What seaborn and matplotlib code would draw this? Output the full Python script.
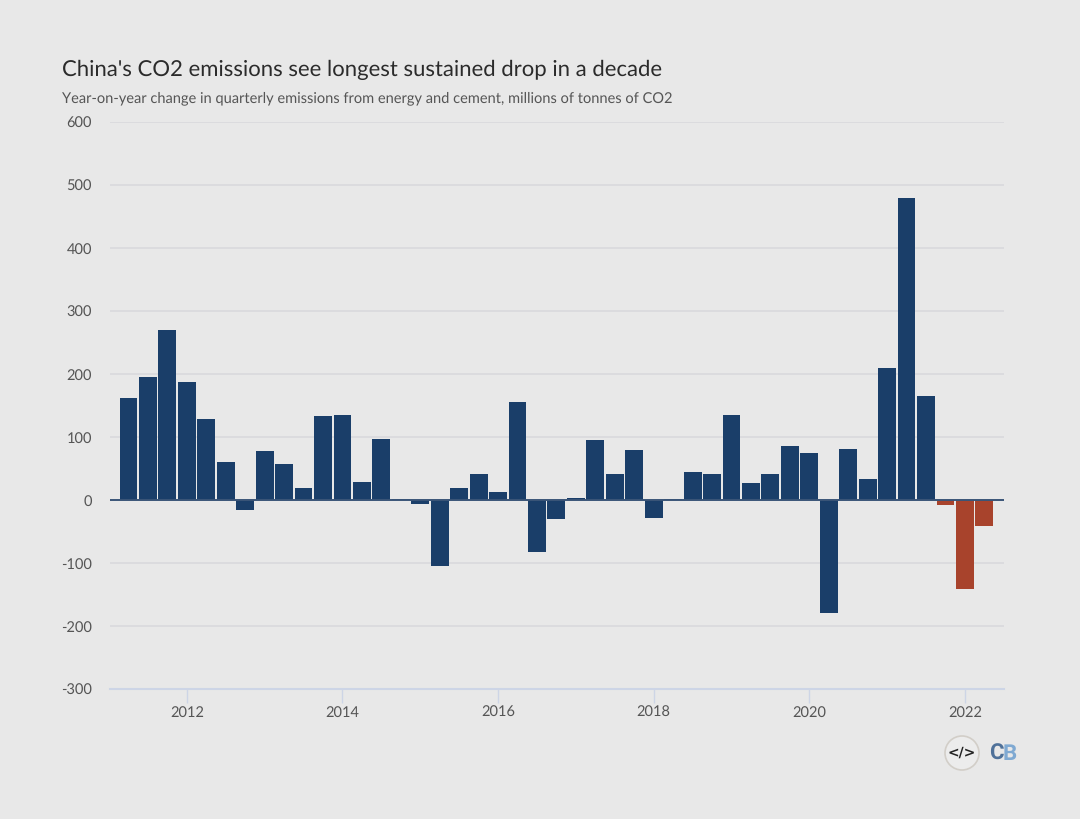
import pandas as pd
import matplotlib.pyplot as plt
from matplotlib.patches import Circle
import seaborn as sns

quarters = [
    "2011Q2", "2011Q3", "2011Q4", "2012Q1", "2012Q2", "2012Q3", "2012Q4", "2013Q1", "2013Q2",
    "2013Q3", "2013Q4", "2014Q1", "2014Q2", "2014Q3", "2014Q4", "2015Q1", "2015Q2", "2015Q3",
    "2015Q4", "2016Q1", "2016Q2", "2016Q3", "2016Q4", "2017Q1", "2017Q2", "2017Q3", "2017Q4",
    "2018Q1", "2018Q2", "2018Q3", "2018Q4", "2019Q1", "2019Q2", "2019Q3", "2019Q4", "2020Q1",
    "2020Q2", "2020Q3", "2020Q4", "2021Q1", "2021Q2", "2021Q3", "2021Q4", "2022Q1", "2022Q2",
]
change = [
    162, 196, 270, 188, 129, 61, -16, 77, 57,
    19, 133, 135, 29, 97, 1, -6, -104, 19,
    41, 13, 155, -82, -30, 3, 95, 41, 79,
    -28, 1, 45, 41, 135, 27, 41, 85, 75,
    -179, 81, 33, 210, 479, 165, -8, -142, -41,
]
period = ["earlier"] * 42 + ["drop"] * 3
year_ticks = ["2012Q1", "2014Q1", "2016Q1", "2018Q1", "2020Q1", "2022Q1"]
year_labels = ["2012", "2014", "2016", "2018", "2020", "2022"]
y_ticks = [-300, -200, -100, 0, 100, 200, 300, 400, 500, 600]

df = pd.DataFrame({"quarter": quarters, "change": change, "period": period})

bg = "#e8e8e8"
sns.set_theme(style="white", rc={"figure.facecolor": bg, "axes.facecolor": bg})
plt.rcParams["font.family"] = ["Lato", "DejaVu Sans"]
plt.rcParams["text.hinting"] = "no_hinting"

fig = plt.figure(figsize=(10.8, 8.19), dpi=100)
ax = fig.add_axes([110 / 1080, 1 - 689 / 819, (1004 - 110) / 1080, (689 - 122) / 819])

sns.barplot(
    data=df,
    x="quarter",
    y="change",
    hue="period",
    palette={"earlier": "#1a3e69", "drop": "#a8432c"},
    width=0.92,
    dodge=False,
    legend=False,
    saturation=1,
    linewidth=0,
    zorder=3,
    ax=ax,
)

ax.set_xlim(-0.95, 45.01)
ax.set_ylim(-300, 600)
ax.set_xlabel("")
ax.set_ylabel("")

ax.set_yticks(y_ticks)
ax.set_yticklabels([str(v) for v in y_ticks], color="#555555", fontsize=10.5)
ax.set_xticks([quarters.index(q) for q in year_ticks])
ax.set_xticklabels(year_labels, color="#555555", fontsize=10.5)
ax.tick_params(axis="y", length=0, pad=13)
ax.tick_params(axis="x", length=10, width=1, color="#cdd5e6", pad=2, bottom=True)

ax.grid(axis="y", color="#d8d8dc", linewidth=1.1, zorder=0)
ax.set_axisbelow(True)
sns.despine(ax=ax, left=True)
ax.spines["bottom"].set_color("#cdd5e6")
ax.spines["bottom"].set_linewidth(1.5)
ax.axhline(0, color="#3a5578", linewidth=1.4, zorder=4)

fig.text(62 / 1080, 1 - 70 / 819, "China's CO2 emissions see longest sustained drop in a decade",
         fontsize=15.9, color="#2b2b2b", va="center", ha="left")
fig.text(62 / 1080, 1 - 98 / 819,
         "Year-on-year change in quarterly emissions from energy and cement, millions of tonnes of CO2",
         fontsize=10.5, color="#555555", va="center", ha="left")

# Carbon Brief logo
logo = fig.add_axes([0, 0, 1, 1], facecolor="none")
logo.set_xlim(0, 1080)
logo.set_ylim(819, 0)
logo.axis("off")
logo.add_patch(Circle((962, 753), 17, facecolor="#ececec", edgecolor="#d2cec8", linewidth=1.2))
logo.text(962, 753, "</>", fontsize=10, fontweight="bold", color="#222222", ha="center", va="center",
          family="DejaVu Sans")
logo.text(989, 754, "C", fontsize=16, fontweight="bold", color="#4f7199", ha="left", va="center",
          family="Roboto")
logo.text(1003, 754, "B", fontsize=16, fontweight="bold", color="#7fa9d2", ha="left", va="center",
          family="Roboto")

plt.savefig("out.png", dpi=100, facecolor=bg)
plt.close()
